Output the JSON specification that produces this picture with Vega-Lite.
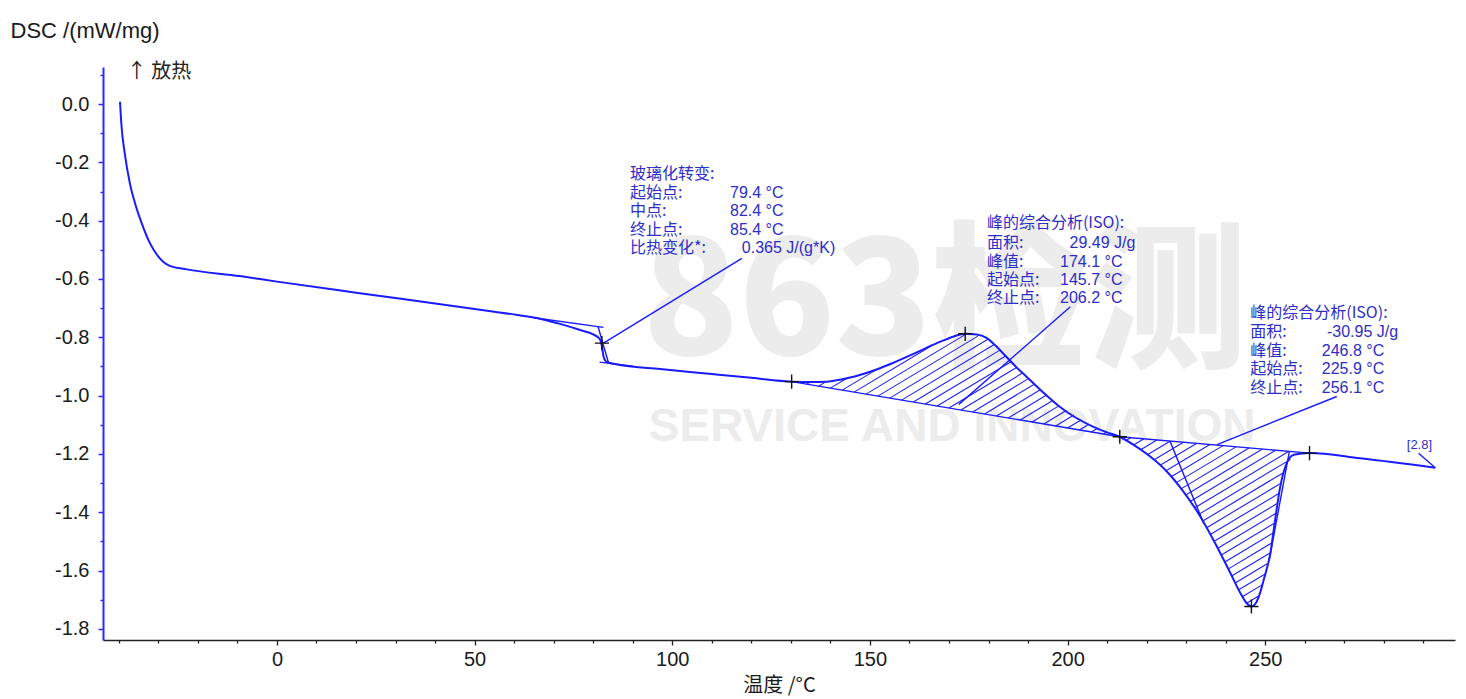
{
  "$schema": "https://vega.github.io/schema/vega-lite/v6.json",
  "width": 1352,
  "height": 573,
  "autosize": {"type": "none"},
  "padding": {"left": 103, "top": 67, "right": 11, "bottom": 59},
  "background": "white",
  "config": {"view": {"stroke": null}, "font": "Liberation Sans"},
  "datasets": {
    "curve": [
      {"T": -39.7, "v": 0.008}, {"T": -39.3, "v": -0.078}, {"T": -38.5, "v": -0.169}, {"T": -37.2, "v": -0.272},
      {"T": -35.9, "v": -0.34}, {"T": -34.2, "v": -0.409}, {"T": -32.1, "v": -0.478}, {"T": -30.0, "v": -0.523},
      {"T": -27.1, "v": -0.555}, {"T": -22.8, "v": -0.567}, {"T": -9.4, "v": -0.59},
      {"T": 0, "v": -0.609}, {"T": 20, "v": -0.647}, {"T": 40, "v": -0.684}, {"T": 55, "v": -0.712},
      {"T": 62, "v": -0.726}, {"T": 67, "v": -0.738}, {"T": 71.6, "v": -0.754}, {"T": 76.7, "v": -0.775},
      {"T": 80.0, "v": -0.79}, {"T": 81.6, "v": -0.805}, {"T": 82.2, "v": -0.83}, {"T": 82.6, "v": -0.865},
      {"T": 83.2, "v": -0.882}, {"T": 84.3, "v": -0.888}, {"T": 86.8, "v": -0.895}, {"T": 96.9, "v": -0.909},
      {"T": 110, "v": -0.926}, {"T": 120, "v": -0.939}, {"T": 130.2, "v": -0.952}, {"T": 135, "v": -0.953},
      {"T": 139.0, "v": -0.952}, {"T": 143, "v": -0.944}, {"T": 147.4, "v": -0.929}, {"T": 151.5, "v": -0.911},
      {"T": 155.8, "v": -0.888}, {"T": 160, "v": -0.863}, {"T": 164.3, "v": -0.836}, {"T": 168, "v": -0.814},
      {"T": 171.0, "v": -0.798}, {"T": 174.1, "v": -0.788}, {"T": 177, "v": -0.79}, {"T": 179.5, "v": -0.802},
      {"T": 181.5, "v": -0.825}, {"T": 183.6, "v": -0.854}, {"T": 186.5, "v": -0.895}, {"T": 189.6, "v": -0.935},
      {"T": 193.5, "v": -0.985}, {"T": 198.0, "v": -1.038}, {"T": 202, "v": -1.075}, {"T": 206.4, "v": -1.106},
      {"T": 210, "v": -1.126}, {"T": 213.2, "v": -1.141}, {"T": 216.7, "v": -1.169}, {"T": 220.9, "v": -1.209},
      {"T": 225.1, "v": -1.26}, {"T": 229.3, "v": -1.329}, {"T": 233.6, "v": -1.415}, {"T": 237.8, "v": -1.518},
      {"T": 241.2, "v": -1.609}, {"T": 243.7, "v": -1.677}, {"T": 245.3, "v": -1.712}, {"T": 246.5, "v": -1.723},
      {"T": 247.6, "v": -1.712}, {"T": 248.6, "v": -1.68}, {"T": 249.6, "v": -1.632}, {"T": 251.3, "v": -1.54},
      {"T": 252.5, "v": -1.426}, {"T": 253.8, "v": -1.312}, {"T": 255.1, "v": -1.243}, {"T": 257.2, "v": -1.203},
      {"T": 261.2, "v": -1.197}, {"T": 274.0, "v": -1.215}, {"T": 293.0, "v": -1.247}
    ],
    "hatch": [
      {"T": 134, "v": -0.9607, "T2": 135.1, "v2": -0.9516},
      {"T": 137, "v": -0.9675, "T2": 138.9, "v2": -0.9519},
      {"T": 140, "v": -0.9743, "T2": 144.6, "v2": -0.9369},
      {"T": 143, "v": -0.9811, "T2": 152.4, "v2": -0.9047},
      {"T": 146, "v": -0.988, "T2": 165.6, "v2": -0.8286},
      {"T": 149, "v": -0.9948, "T2": 174.3, "v2": -0.789},
      {"T": 152, "v": -1.0016, "T2": 177.3, "v2": -0.796},
      {"T": 155, "v": -1.0085, "T2": 179.85, "v2": -0.8064},
      {"T": 158, "v": -1.0153, "T2": 181.35, "v2": -0.8254},
      {"T": 161, "v": -1.0221, "T2": 182.9, "v2": -0.844},
      {"T": 164, "v": -1.029, "T2": 184.3, "v2": -0.8639},
      {"T": 167, "v": -1.0358, "T2": 185.8, "v2": -0.8829},
      {"T": 170, "v": -1.0426, "T2": 187.2, "v2": -0.9028},
      {"T": 173, "v": -1.0495, "T2": 188.7, "v2": -0.9218},
      {"T": 176, "v": -1.0563, "T2": 190.1, "v2": -0.9417},
      {"T": 179, "v": -1.0631, "T2": 191.7, "v2": -0.9599},
      {"T": 182, "v": -1.0699, "T2": 193.2, "v2": -0.9789},
      {"T": 185, "v": -1.0768, "T2": 194.7, "v2": -0.9979},
      {"T": 188, "v": -1.0836, "T2": 196.25, "v2": -1.0166},
      {"T": 191, "v": -1.0904, "T2": 197.8, "v2": -1.0352},
      {"T": 194, "v": -1.0973, "T2": 199.65, "v2": -1.0513},
      {"T": 197, "v": -1.1041, "T2": 201.6, "v2": -1.0667},
      {"T": 200, "v": -1.1109, "T2": 203.5, "v2": -1.0825},
      {"T": 203, "v": -1.1178, "T2": 205.4, "v2": -1.0983},
      {"T": 206, "v": -1.1246, "T2": 207.6, "v2": -1.1116},
      {"T": 209, "v": -1.1314, "T2": 209.9, "v2": -1.1241},
      {"T": 212, "v": -1.1383, "T2": 212.3, "v2": -1.1359},
      {"T": 214.8, "v": -1.1537, "T2": 216.0, "v2": -1.1439},
      {"T": 216.7, "v": -1.1692, "T2": 219.3, "v2": -1.1481},
      {"T": 218.5, "v": -1.1856, "T2": 222.6, "v2": -1.1523},
      {"T": 220.2, "v": -1.2028, "T2": 226.0, "v2": -1.1556},
      {"T": 221.8, "v": -1.2208, "T2": 229.3, "v2": -1.1598},
      {"T": 223.4, "v": -1.2388, "T2": 232.6, "v2": -1.164},
      {"T": 224.9, "v": -1.2576, "T2": 236.0, "v2": -1.1673},
      {"T": 226.2, "v": -1.278, "T2": 239.3, "v2": -1.1715},
      {"T": 227.5, "v": -1.2984, "T2": 242.6, "v2": -1.1757},
      {"T": 228.7, "v": -1.3197, "T2": 246.0, "v2": -1.179},
      {"T": 229.9, "v": -1.3409, "T2": 249.3, "v2": -1.1832},
      {"T": 231.0, "v": -1.363, "T2": 252.6, "v2": -1.1874},
      {"T": 232.1, "v": -1.385, "T2": 256.0, "v2": -1.1907},
      {"T": 233.2, "v": -1.4071, "T2": 256.4, "v2": -1.2185},
      {"T": 234.2, "v": -1.43, "T2": 254.7, "v2": -1.2633},
      {"T": 235.2, "v": -1.4528, "T2": 254.0, "v2": -1.3},
      {"T": 236.1, "v": -1.4765, "T2": 253.5, "v2": -1.335},
      {"T": 237.3, "v": -1.4978, "T2": 253.1, "v2": -1.3693},
      {"T": 238.0, "v": -1.5231, "T2": 252.8, "v2": -1.4027},
      {"T": 238.9, "v": -1.5467, "T2": 252.4, "v2": -1.437},
      {"T": 239.8, "v": -1.5704, "T2": 252.0, "v2": -1.4712},
      {"T": 240.7, "v": -1.5941, "T2": 251.7, "v2": -1.5047},
      {"T": 241.5, "v": -1.6186, "T2": 251.3, "v2": -1.5389},
      {"T": 242.4, "v": -1.6423, "T2": 250.6, "v2": -1.5756},
      {"T": 243.3, "v": -1.666, "T2": 250.0, "v2": -1.6115},
      {"T": 244.4, "v": -1.688, "T2": 249.2, "v2": -1.649},
      {"T": 245.4, "v": -1.7109, "T2": 248.3, "v2": -1.6873}
    ],
    "segs": [
      {"T": 130.2, "v": -0.952, "T2": 213.2, "v2": -1.141},
      {"T": 213.2, "v": -1.141, "T2": 261.2, "v2": -1.197},
      {"T": 65, "v": -0.733, "T2": 82.6, "v2": -0.766},
      {"T": 81.6, "v": -0.885, "T2": 90, "v2": -0.899},
      {"T": 81.2, "v": -0.762, "T2": 83.9, "v2": -0.889},
      {"T": 225.9, "v": -1.156, "T2": 234.5, "v2": -1.44},
      {"T": 256.1, "v": -1.191, "T2": 251.0, "v2": -1.565},
      {"T": 117.6, "v": -0.529, "T2": 82.6, "v2": -0.82},
      {"T": 200.7, "v": -0.695, "T2": 172.5, "v2": -1.03},
      {"T": 268.1, "v": -1.003, "T2": 237.8, "v2": -1.168},
      {"T": 288.8, "v": -1.1975, "T2": 293.0, "v2": -1.247}
    ],
    "crosses": [
      {"T": 82.2, "v": -0.82}, {"T": 130.2, "v": -0.952}, {"T": 174.1, "v": -0.788},
      {"T": 213.2, "v": -1.141}, {"T": 246.5, "v": -1.723}, {"T": 261.2, "v": -1.197}
    ],
    "labels": [
      {"T": 89.3, "v": -0.24, "text": "玻璃化转变:"},
      {"T": 89.3, "v": -0.305, "text": "起始点:"},
      {"T": 89.3, "v": -0.3685, "text": "中点:"},
      {"T": 89.3, "v": -0.432, "text": "终止点:"},
      {"T": 89.3, "v": -0.495, "text": "比热变化*:"},
      {"T": 179.6, "v": -0.409, "text": "峰的综合分析(ISO):"},
      {"T": 179.6, "v": -0.4755, "text": "面积:"},
      {"T": 179.6, "v": -0.5406, "text": "峰值:"},
      {"T": 179.6, "v": -0.6034, "text": "起始点:"},
      {"T": 179.6, "v": -0.666, "text": "终止点:"},
      {"T": 246.2, "v": -0.7175, "text": "峰的综合分析(ISO):"},
      {"T": 246.2, "v": -0.7806, "text": "面积:"},
      {"T": 246.2, "v": -0.8468, "text": "峰值:"},
      {"T": 246.2, "v": -0.9085, "text": "起始点:"},
      {"T": 246.2, "v": -0.9726, "text": "终止点:"}
    ],
    "values": [
      {"T": 114.6, "v": -0.305, "text": "79.4 °C"},
      {"T": 114.6, "v": -0.3685, "text": "82.4 °C"},
      {"T": 114.6, "v": -0.432, "text": "85.4 °C"},
      {"T": 117.6, "v": -0.495, "text": "0.365 J/(g*K)"},
      {"T": 200.5, "v": -0.4755, "text": "29.49 J/g"},
      {"T": 198.1, "v": -0.5406, "text": "174.1 °C"},
      {"T": 198.1, "v": -0.6034, "text": "145.7 °C"},
      {"T": 198.1, "v": -0.666, "text": "206.2 °C"},
      {"T": 265.6, "v": -0.7806, "text": "-30.95 J/g"},
      {"T": 264.3, "v": -0.8468, "text": "246.8 °C"},
      {"T": 264.3, "v": -0.9085, "text": "225.9 °C"},
      {"T": 264.3, "v": -0.9726, "text": "256.1 °C"}
    ]
  },
  "encoding": {
    "x": {
      "field": "T", "type": "quantitative",
      "scale": {"domain": [-44, 298], "nice": false, "zero": false},
      "axis": {
        "title": "温度 /°C",
        "titleFont": "Noto Sans CJK SC", "titleFontSize": 20, "titleFontWeight": "normal", "titleColor": "#1a1a1a", "titlePadding": 6,
        "values": [-40, -30, -20, -10, 0, 10, 20, 30, 40, 50, 60, 70, 80, 90, 100, 110, 120, 130, 140, 150, 160, 170, 180, 190, 200, 210, 220, 230, 240, 250, 260, 270, 280, 290],
        "labelExpr": "datum.value % 50 === 0 ? datum.label : ''",
        "labelFont": "Liberation Sans", "labelFontSize": 20, "labelColor": "#1a1a1a", "labelPadding": 4,
        "tickSize": {"condition": {"test": "datum.value % 50 === 0", "value": 5}, "value": 3},
        "tickColor": "#222222", "tickWidth": 1.3, "domainColor": "#222222", "domainWidth": 1.6, "grid": false, "labelOverlap": false
      }
    },
    "y": {
      "field": "v", "type": "quantitative",
      "scale": {"domain": [-1.838, 0.127], "nice": false, "zero": false},
      "axis": {
        "title": "DSC /(mW/mg)",
        "titleAngle": 0, "titleAlign": "left", "titleBaseline": "middle", "titleX": -93, "titleY": -37,
        "titleFont": "Liberation Sans", "titleFontSize": 22, "titleFontWeight": "normal", "titleColor": "#1a1a1a",
        "values": [-1.8, -1.7, -1.6, -1.5, -1.4, -1.3, -1.2, -1.1, -1.0, -0.9, -0.8, -0.7, -0.6, -0.5, -0.4, -0.3, -0.2, -0.1, 0, 0.1],
        "labelExpr": "abs(round(datum.value * 10)) % 2 === 0 ? ((datum.value < 0 ? '-' : '') + format(abs(datum.value), '.1f')) : ''",
        "labelFont": "Liberation Sans", "labelFontSize": 20, "labelColor": "#1a1a1a", "labelPadding": 9,
        "tickSize": {"condition": {"test": "abs(round(datum.value * 10)) % 2 === 0", "value": 5}, "value": 3},
        "tickColor": "#2a2aff", "tickWidth": 1.5, "domainColor": "#2a2aff", "domainWidth": 2, "grid": false, "labelOverlap": false
      }
    }
  },
  "layer": [
    {
      "data": {"values": [{"T": 169, "v": -0.7, "text": "863检测"}]},
      "mark": {"type": "text", "font": "Noto Sans CJK SC", "fontWeight": 900, "fontSize": 158, "color": "#ececec", "align": "center", "baseline": "middle"},
      "encoding": {"text": {"field": "text"}}
    },
    {
      "data": {"values": [{"T": 170.8, "v": -1.107, "text": "SERVICE AND INNOVATION"}]},
      "mark": {"type": "text", "font": "Liberation Sans", "fontWeight": "bold", "fontSize": 46, "color": "#ececec", "align": "center", "baseline": "middle"},
      "encoding": {"text": {"field": "text"}}
    },
    {
      "data": {"name": "hatch"},
      "mark": {"type": "rule", "color": "#2020ee", "strokeWidth": 1.1},
      "encoding": {"x2": {"field": "T2"}, "y2": {"field": "v2"}}
    },
    {
      "data": {"name": "segs"},
      "mark": {"type": "rule", "color": "#1a1aff", "strokeWidth": 1.4},
      "encoding": {"x2": {"field": "T2"}, "y2": {"field": "v2"}}
    },
    {
      "data": {"name": "curve"},
      "mark": {"type": "line", "color": "#1a1aff", "strokeWidth": 2, "interpolate": "monotone"}
    },
    {
      "data": {"name": "crosses"},
      "mark": {"type": "point", "shape": "M-1,0H1M0,-1V1", "size": 200, "filled": false, "stroke": "#111111", "strokeWidth": 1.4, "opacity": 1}
    },
    {
      "data": {"name": "labels"},
      "mark": {"type": "text", "font": "Noto Sans CJK SC", "fontSize": 16, "color": "#2d2dc8", "align": "left", "baseline": "middle"},
      "encoding": {"text": {"field": "text"}}
    },
    {
      "data": {"name": "values"},
      "mark": {"type": "text", "font": "Liberation Sans", "fontSize": 16, "color": "#2d2dc8", "align": "left", "baseline": "middle"},
      "encoding": {"text": {"field": "text"}}
    },
    {
      "data": {"values": [{"T": 289.0, "v": -1.169, "text": "[2.8]"}]},
      "mark": {"type": "text", "font": "Liberation Sans", "fontSize": 13, "color": "#2d2dc8", "align": "center", "baseline": "middle"},
      "encoding": {"text": {"field": "text"}}
    },
    {
      "data": {"values": [{"T": -38, "v": 0.11, "text": "↑ 放热"}]},
      "mark": {"type": "text", "font": "Noto Sans CJK SC", "fontSize": 20, "color": "#222222", "align": "left", "baseline": "middle"},
      "encoding": {"text": {"field": "text"}}
    }
  ]
}
